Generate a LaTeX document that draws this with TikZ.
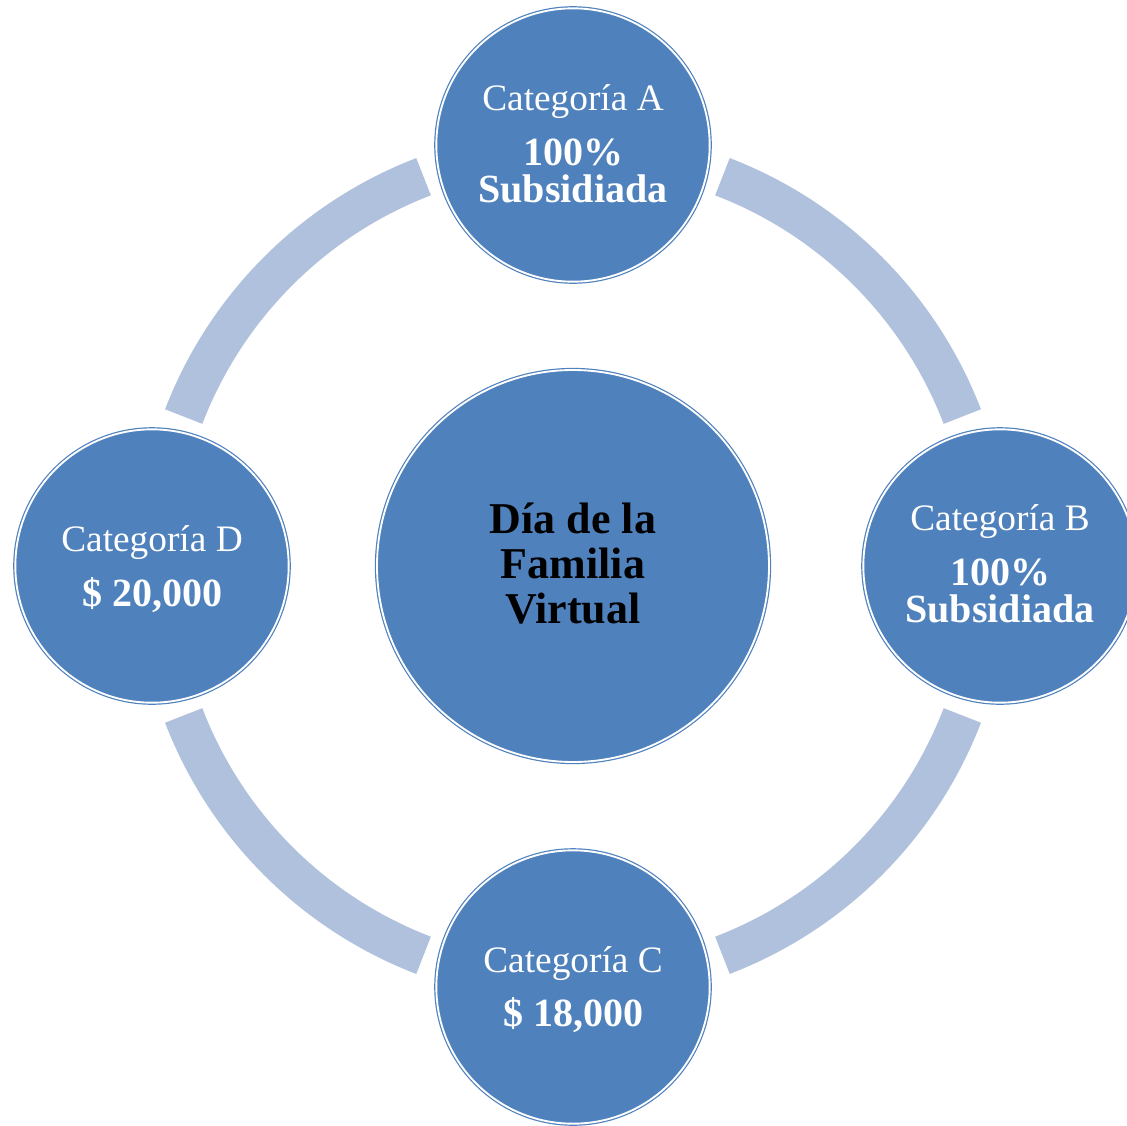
\documentclass[tikz,border=0pt]{standalone}
\usepackage{fontspec}
\setmainfont{Liberation Serif}
\definecolor{cblue}{HTML}{4F81BD}
\definecolor{cring}{HTML}{B0C1DD}
\begin{document}
\begin{tikzpicture}[x=0.75pt,y=-0.75pt,
  ball/.style={circle, fill=cblue, draw=cblue, double=white, double distance=1.4pt, line width=0.9pt, inner sep=0pt},
  lab/.style={font=\fontsize{28}{30}\selectfont, text=white, anchor=base},
  big/.style={font=\fontsize{30}{32}\selectfont\bfseries, text=white, anchor=base},
  ctext/.style={font=\fontsize{33}{36}\selectfont\bfseries, text=black, anchor=base},
  ringarc/.style={draw=cring, line width=30pt}]
\path[use as bounding box] (0,0) rectangle (1127,1125);
\coordinate (O) at (573,566);
% ring segments
\foreach \a in {21,111,201,291}{
  \draw[ringarc] (O) ++(\a:417) arc[start angle=\a, delta angle=48, radius=417];
}
% circles
\node[ball, minimum size=294pt] (ctr) at (O) {};
\node[ball, minimum size=205pt] (ca) at (573,145) {};
\node[ball, minimum size=205pt] (cb) at (1000,566) {};
\node[ball, minimum size=205pt] (cc) at (573,987) {};
\node[ball, minimum size=205pt] (cd) at (152,566) {};
% center text
\node[ctext] (t1) at (573,533) {Día de la};
\node[ctext] (t2) at (573,578) {Familia};
\node[ctext] (t3) at (573,623) {Virtual};
% A
\node[lab] (a1) at (573,110) {Categoría A};
\node[big] (a2) at (573,165) {100\%};
\node[big] (a3) at (573,202) {Subsidiada};
% B
\node[lab] (b1) at (1000,530) {Categoría B};
\node[big] (b2) at (1000,585) {100\%};
\node[big] (b3) at (1000,622) {Subsidiada};
% C
\node[lab] (c1) at (573,972) {Categoría C};
\node[big] (c2) at (573,1026) {\$ 18,000};
% D
\node[lab] (d1) at (152,551) {Categoría D};
\node[big] (d2) at (152,606) {\$ 20,000};
\end{tikzpicture}
\end{document}
